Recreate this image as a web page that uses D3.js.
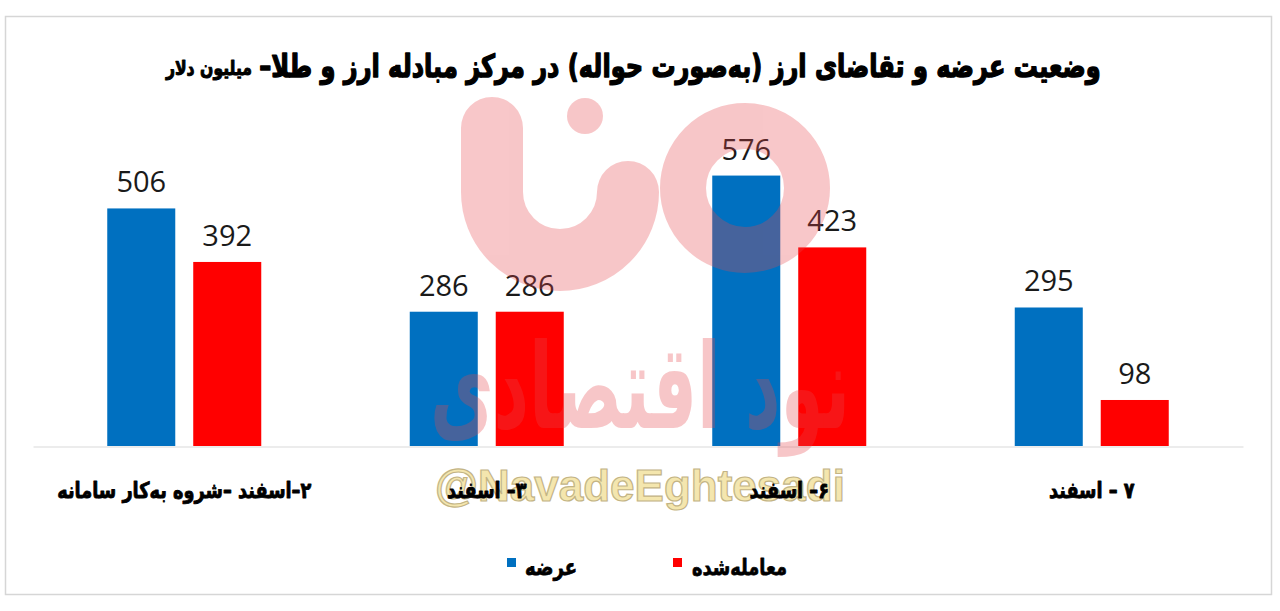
<!DOCTYPE html>
<html>
<head>
<meta charset="utf-8">
<script src="https://cdn.jsdelivr.net/npm/d3@7"></script>
<style>
  html, body { margin: 0; padding: 0; background: #fff; }
  svg { display: block; }
</style>
</head>
<body>
<svg id="chart" width="1280" height="611"></svg>
<script>
// ---- data ----
const categories = ["۲–اسفند –شروه به‌کار سامانه", "۳– اسفند", "۶– اسفند", "۷ – اسفند"];
const seriesNames = ["عرضه", "معامله‌شده"];
const supplyValues = [506, 286, 576, 295];
const tradedValues = [392, 286, 423, 98];
const titleMain = "وضعیت عرضه و تقاضای ارز (به‌صورت حواله) در مرکز مبادله ارز و طلا–";
const titleUnit = "میلیون دلار";
const watermarkHandle = "@NavadeEghtesadi";
const watermarkName = "نود اقتصادی";

const colors = ["#0070C0", "#FF0000"];
const arabicFont = "'DejaVu Sans', sans-serif";

const svg = d3.select("#chart");

function fitWidth(sel, target) {
  const w = sel.node().getComputedTextLength();
  const fs = parseFloat(sel.attr("font-size"));
  if (w > 0) sel.attr("font-size", fs * target / w);
  return sel;
}

// frame
svg.append("rect")
  .attr("x", 5.5).attr("y", 16.5).attr("width", 1266).attr("height", 578)
  .attr("fill", "#fff").attr("stroke", "#d6d6d6").attr("stroke-width", 1.5);

// scales
const plotLeft = 33, plotRight = 1243, baseY = 446;
const x0 = d3.scaleBand().domain(categories).range([plotLeft, plotRight]).padding(0);
const groupW = 154;
const x1 = d3.scaleBand().domain(seriesNames)
  .range([(x0.bandwidth() - groupW) / 2, (x0.bandwidth() + groupW) / 2])
  .paddingInner(0.209).paddingOuter(0);
const y = d3.scaleLinear().domain([0, 700]).range([baseY, baseY - 700 * 0.4695]);

const rows = categories.map((c, i) => ({ cat: c, vals: [supplyValues[i], tradedValues[i]] }));

// title (heavy, slightly stretched vertically)
const tMain = svg.append("text")
  .attr("transform", "translate(680,77) scale(1,1.3)")
  .attr("text-anchor", "middle").attr("direction", "rtl")
  .attr("font-family", arabicFont).attr("font-weight", "bold")
  .attr("font-size", 28).attr("fill", "#000")
  .attr("stroke", "#000").attr("stroke-width", 1.1).attr("stroke-linejoin", "round")
  .text(titleMain);
fitWidth(tMain, 842);
const tUnit = svg.append("text")
  .attr("transform", "translate(209,75) scale(1,1.3)")
  .attr("text-anchor", "middle").attr("direction", "rtl")
  .attr("font-family", arabicFont).attr("font-weight", "bold")
  .attr("font-size", 18).attr("fill", "#000")
  .attr("stroke", "#000").attr("stroke-width", 0.8).attr("stroke-linejoin", "round")
  .text(titleUnit);
fitWidth(tUnit, 86);

// axis baseline (category axis, no ticks)
const xAxis = d3.axisBottom(x0).tickSize(0).tickFormat("");
svg.append("g").attr("transform", `translate(0,${baseY + 0.5})`).call(xAxis)
  .call(g => g.select(".domain").attr("stroke", "#d9d9d9").attr("stroke-width", 1.2));

// bars
const groups = svg.append("g").selectAll("g").data(rows).join("g")
  .attr("transform", d => `translate(${x0(d.cat)},0)`);
groups.selectAll("rect").data(d => d.vals.map((v, i) => ({ s: seriesNames[i], v, i })))
  .join("rect")
  .attr("x", d => x1(d.s)).attr("width", x1.bandwidth())
  .attr("y", d => y(d.v)).attr("height", d => y(0) - y(d.v))
  .attr("fill", d => colors[d.i]);
groups.selectAll("text.val").data(d => d.vals.map((v, i) => ({ s: seriesNames[i], v, i })))
  .join("text").attr("class", "val")
  .attr("x", d => x1(d.s) + x1.bandwidth() / 2)
  .attr("y", d => y(d.v) - 16)
  .attr("text-anchor", "middle")
  .attr("font-family", "'Open Sans', sans-serif").attr("font-size", 29)
  .attr("fill", "#1a1a1a")
  .text(d => d.v);

// watermark logo (faint pink)
const wm = svg.append("g").attr("fill", "#e8474c").attr("opacity", 0.3).attr("pointer-events", "none");
wm.append("path")
  .attr("d", "M 492 128 V 192 A 68 68 0 0 0 628 192")
  .attr("fill", "none").attr("stroke", "#e8474c").attr("stroke-width", 62).attr("stroke-linecap", "round");
wm.append("circle").attr("cx", 745).attr("cy", 188).attr("r", 62)
  .attr("fill", "none").attr("stroke", "#e8474c").attr("stroke-width", 46);
wm.append("circle").attr("cx", 585).attr("cy", 116).attr("r", 18);
const wmText = wm.append("text")
  .attr("transform", "translate(640,428) scale(1,1.7)")
  .attr("text-anchor", "middle").attr("direction", "rtl")
  .attr("font-family", arabicFont).attr("font-weight", "bold").attr("font-size", 110)
  .text(watermarkName);
fitWidth(wmText, 420);

// handle watermark
const wh = svg.append("text")
  .attr("x", 640).attr("y", 501).attr("text-anchor", "middle")
  .attr("font-family", "'Liberation Sans', Arial, sans-serif").attr("font-weight", "bold")
  .attr("font-size", 40).attr("fill", "#f3e2a0").attr("stroke", "#b9a870").attr("stroke-width", 1.2)
  .attr("opacity", 0.85)
  .text(watermarkHandle);
fitWidth(wh, 410);

// category labels
const catLabels = svg.append("g").selectAll("text").data(categories).join("text")
  .attr("transform", d => `translate(${x0(d) + x0.bandwidth() / 2},498) scale(1,1.25)`)
  .attr("text-anchor", "middle").attr("direction", "rtl")
  .attr("font-family", arabicFont).attr("font-weight", "bold")
  .attr("font-size", 20).attr("fill", "#000")
  .attr("stroke", "#000").attr("stroke-width", 0.7).attr("stroke-linejoin", "round")
  .text(d => d);
{
  const w0 = catLabels.nodes()[0].getComputedTextLength();
  const fs = 20 * 254 / w0;
  catLabels.attr("font-size", fs);
}

// legend
const legendItems = [
  { name: seriesNames[0], color: colors[0], sx: 507, tx: 525, tw: 52 },
  { name: seriesNames[1], color: colors[1], sx: 673, tx: 692, tw: 95 }
];
const lg = svg.append("g").selectAll("g").data(legendItems).join("g");
lg.append("rect").attr("x", d => d.sx).attr("y", 558).attr("width", 9).attr("height", 9)
  .attr("fill", d => d.color);
lg.append("text")
  .attr("transform", d => `translate(${d.tx + d.tw / 2},575) scale(1,1.25)`)
  .attr("text-anchor", "middle").attr("direction", "rtl")
  .attr("font-family", arabicFont).attr("font-weight", "bold")
  .attr("font-size", 18).attr("fill", "#000")
  .attr("stroke", "#000").attr("stroke-width", 0.6).attr("stroke-linejoin", "round")
  .text(d => d.name)
  .each(function(d) { fitWidth(d3.select(this), d.tw); });
</script>
</body>
</html>
